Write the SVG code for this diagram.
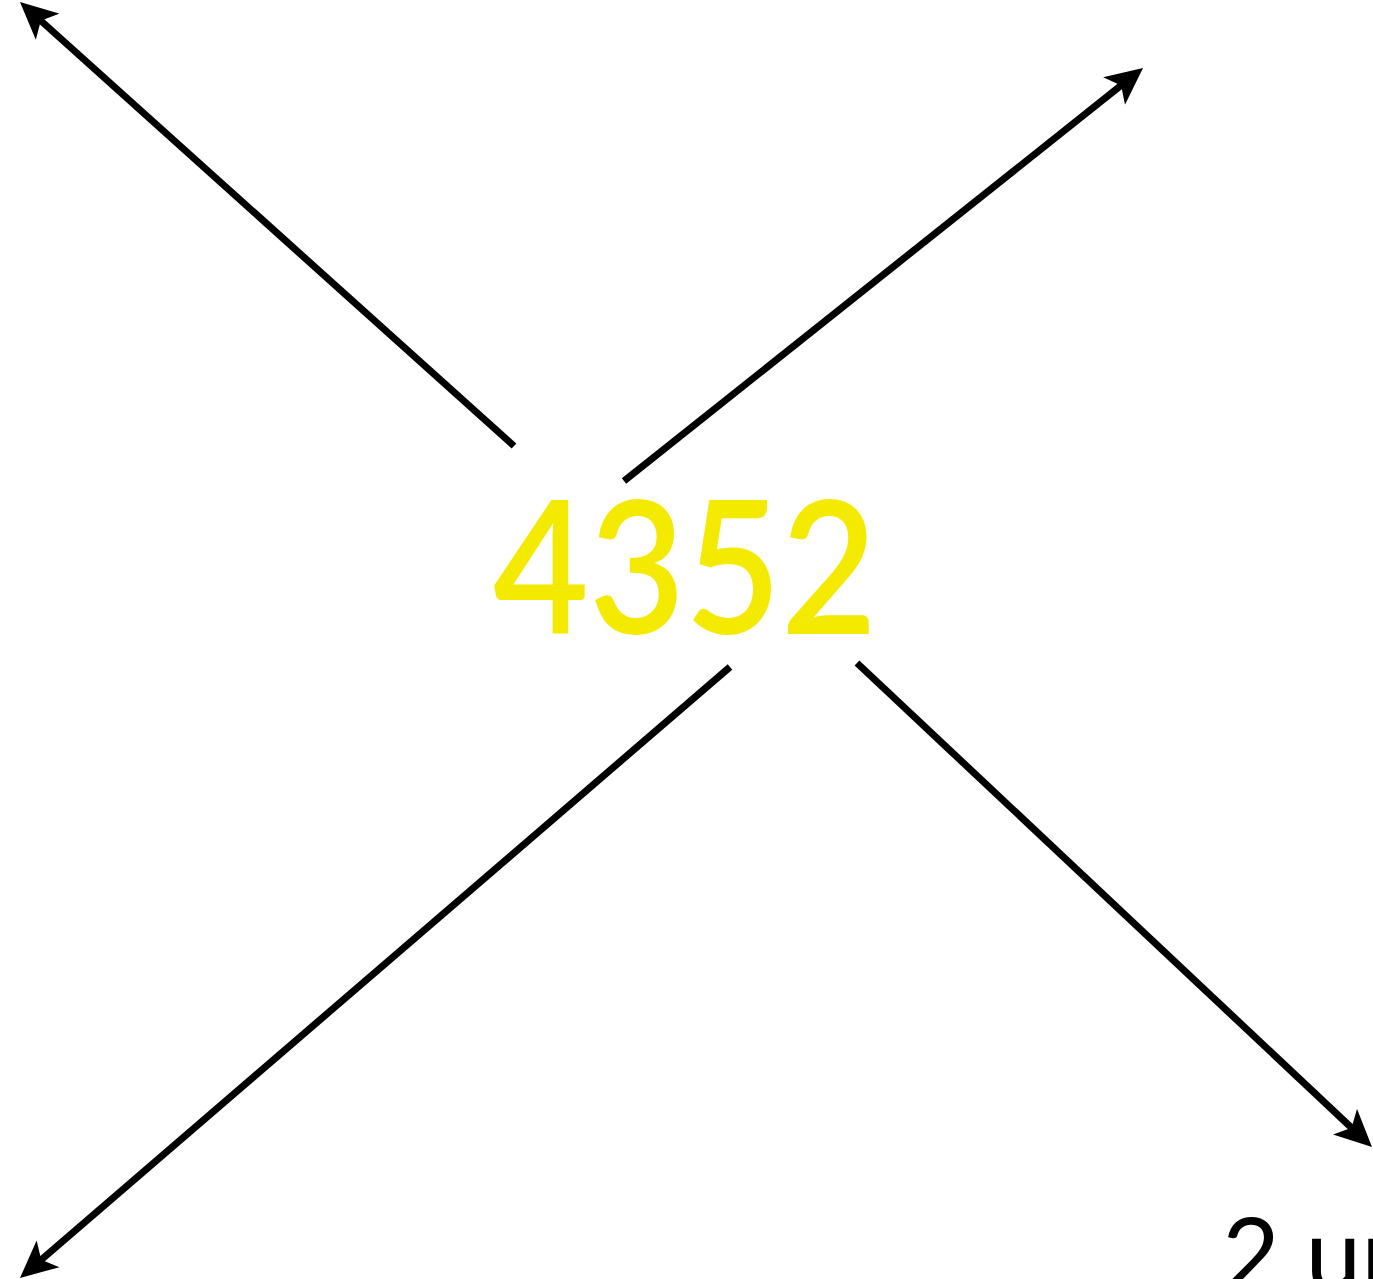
<svg xmlns="http://www.w3.org/2000/svg" width="1373" height="1279" viewBox="0 0 1373 1279">
  <style>
    .edge { stroke: #000; stroke-width: 7; fill: none; marker-end: url(#arrow); }
    .label { font-family: Lato, "Liberation Sans", sans-serif; }
  </style>
  <defs>
    <marker id="arrow" markerUnits="userSpaceOnUse" viewBox="0 -18 37 36" markerWidth="37" markerHeight="36" refX="16" refY="0" orient="auto">
      <path d="M37,0 L0,-17.5 L9,0 L0,17.5 Z" fill="#000"/>
    </marker>
  </defs>
  <rect width="1373" height="1279" fill="#fff"/>
  <g id="connectors">
    <line class="edge" x1="514" y1="446" x2="35.6" y2="16"/>
    <line class="edge" x1="624" y1="481" x2="1126.6" y2="81.1"/>
    <line class="edge" x1="730" y1="667" x2="35.9" y2="1264.3"/>
    <line class="edge" x1="857" y1="663" x2="1356.7" y2="1132.6"/>
  </g>
  <g id="center">
    <text class="label" x="493" y="634" font-size="186" font-weight="600" fill="#f4ea00" textLength="384" lengthAdjust="spacingAndGlyphs">4352</text>
  </g>
  <g id="scale-label">
    <text class="label" x="1222" y="1290" font-size="100" fill="#000">2 units</text>
  </g>
</svg>
